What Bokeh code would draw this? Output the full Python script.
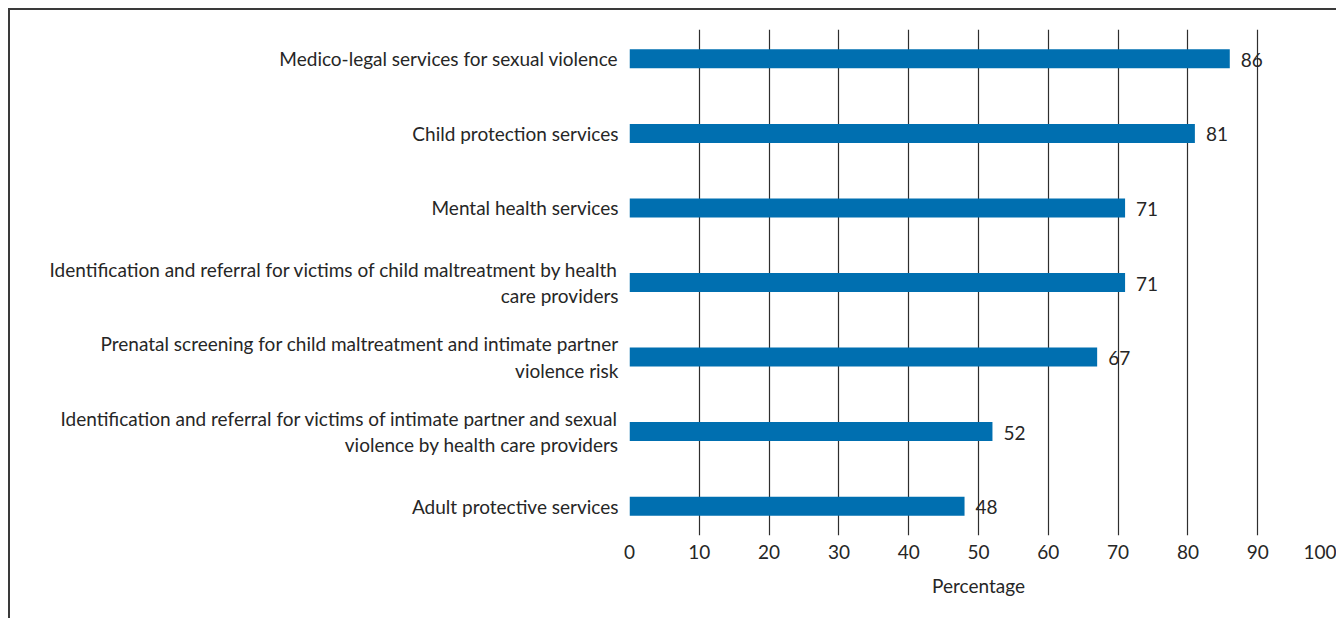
from bokeh.plotting import figure
from bokeh.models import ColumnDataSource, FactorRange, Range1d, FixedTicker
from bokeh.core.properties import value
from bokeh.embed import file_html
from bokeh.resources import INLINE

categories = [
    "Medico-legal services for sexual violence",
    "Child protection services",
    "Mental health services",
    "Identification and referral for victims of child maltreatment by health\ncare providers",
    "Prenatal screening for child maltreatment and intimate partner\nviolence risk",
    "Identification and referral for victims of intimate partner and sexual\nviolence by health care providers",
    "Adult protective services",
]
percentages = [86, 81, 71, 71, 67, 52, 48]
x_ticks = [0, 10, 20, 30, 40, 50, 60, 70, 80, 90, 100]

FONT = "Lato"
FS = "19px"
TXT = "#262626"

source = ColumnDataSource(dict(cat=categories, pct=percentages,
                               lbl=[str(v) for v in percentages]))

p = figure(
    width=1328, height=610,
    y_range=FactorRange(factors=categories[::-1], range_padding=-0.106,
                        range_padding_units="absolute"),
    x_range=Range1d(0, 100),
    output_backend="svg", toolbar_location=None,
    min_border_left=619, min_border_top=19, min_border_right=11, min_border_bottom=85,
)
p.styles = {"margin-left": "8px", "margin-top": "8px",
            "border-top": "2px solid #3a3a3a", "border-left": "2px solid #3a3a3a"}
p.outline_line_color = None

p.hbar(y="cat", right="pct", left=0, height=0.255, source=source,
       fill_color="#006fb0", line_color=None)

p.text(x="pct", y="cat", text="lbl", source=source, x_offset=11, y_offset=1,
       text_baseline="middle", text_align="left", text_font=value(FONT),
       text_font_size=FS, text_color=TXT)

# x axis
p.xaxis.ticker = FixedTicker(ticks=x_ticks)
p.xaxis.axis_line_color = None
p.xaxis.major_tick_line_color = None
p.xaxis.minor_tick_line_color = None
p.xaxis.major_tick_out = 0
p.xaxis.major_tick_in = 0
p.xaxis.major_label_standoff = 9
p.xaxis.major_label_text_font = FONT
p.xaxis.major_label_text_font_size = FS
p.xaxis.major_label_text_color = TXT
p.xaxis.axis_label = "Percentage"
p.xaxis.axis_label_text_font = FONT
p.xaxis.axis_label_text_font_size = FS
p.xaxis.axis_label_text_font_style = "normal"
p.xaxis.axis_label_text_color = TXT
p.xaxis.axis_label_standoff = 12

# y axis
p.yaxis.axis_line_color = None
p.yaxis.major_tick_line_color = None
p.yaxis.minor_tick_line_color = None
p.yaxis.major_tick_out = 0
p.yaxis.major_tick_in = 0
p.yaxis.major_label_standoff = 11
p.yaxis.major_label_text_font = FONT
p.yaxis.major_label_text_font_size = FS
p.yaxis.major_label_text_color = TXT
p.yaxis.major_label_text_line_height = 1.15

p.xgrid.grid_line_color = "#2e2e2e"
p.xgrid.grid_line_width = 1.2
p.ygrid.grid_line_color = None

open("out.html", "w").write(file_html(p, INLINE))
